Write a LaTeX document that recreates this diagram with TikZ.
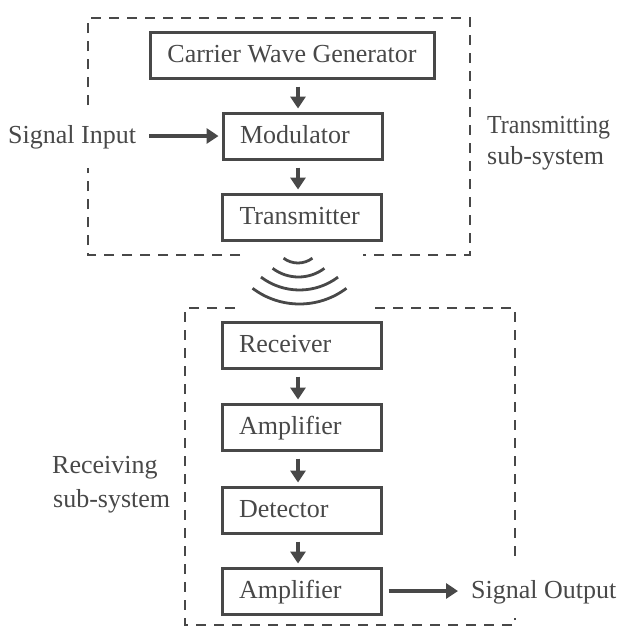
\documentclass[tikz,border=0pt]{standalone}
\usepackage{fontspec}
\setmainfont{Liberation Serif}
\usetikzlibrary{arrows.meta,calc}
\definecolor{ink}{RGB}{72,72,72}
\begin{document}
\begin{tikzpicture}[x=1pt,y=-1pt,
  every node/.style={text=ink,font=\fontsize{26}{31}\selectfont},
  blockbox/.style={draw=ink,line width=3pt,minimum height=46pt,text height=19pt,text depth=5pt,inner ysep=0pt},
  leftbox/.style={blockbox,inner xsep=17pt,text width=125pt,align=left},
  lab/.style={inner sep=0pt,anchor=base west},
  arr/.style={draw=ink,line width=3.2pt,-{Triangle[width=15pt,length=12pt]}},
  varr/.style={arr,shorten <=7pt,shorten >=3pt},
  dashbox/.style={draw=ink,line width=2.7pt,dash pattern=on 10pt off 8pt},
  wave/.style={draw=ink,line width=2.8pt}]
\useasboundingbox (0,0) rectangle (624,627);

% transmitting blocks
\node[blockbox,minimum width=284pt,inner xsep=0pt] (cwg) at (292,55) {Carrier Wave Generator};
\node[leftbox] (mod) at (302.5,136) {Modulator};
\node[leftbox] (tra) at (302,217) {Transmitter};

% receiving blocks
\node[leftbox] (rec) at (301.5,345) {Receiver};
\node[leftbox] (amp1) at (301.5,427) {Amplifier};
\node[leftbox] (det) at (301.5,510) {Detector};
\node[leftbox] (amp2) at (301.5,591) {Amplifier};

% labels
\node[lab] (sin) at (8,143) {Signal Input};
\node[lab] (sout) at (471,598) {Signal Output};
\node[lab] (tl1) at (487,133) {\scalebox{0.92}[1]{Transmitting}};
\node[lab] (tl2) at (487,164) {sub-system};
\node[lab] (rl1) at (52,473) {Receiving};
\node[lab] (rl2) at (53,507) {sub-system};

% vertical arrows
\coordinate (ax) at (298,0);
\draw[varr] (cwg.south -| ax) -- (mod.north -| ax);
\draw[varr] (mod.south -| ax) -- (tra.north -| ax);
\draw[varr] (rec.south -| ax) -- (amp1.north -| ax);
\draw[varr] (amp1.south -| ax) -- (det.north -| ax);
\draw[varr] (det.south -| ax) -- (amp2.north -| ax);

% horizontal arrows
\draw[arr,shorten >=3pt] ([xshift=13pt]mod.west -| sin.east) -- (mod.west);
\draw[arr] ([xshift=6pt]amp2.east) -- ([xshift=-13pt]amp2.east -| sout.west);

% dashed sub-system boxes
\draw[dashbox] (88,105) -- (88,18) -- (470,18) -- (470,255) -- (363,255);
\draw[dashbox] (240,255) -- (88,255) -- (88,168);
\draw[dashbox] (235,308) -- (185,308) -- (185,625) -- (515,625) -- (515,618);
\draw[dashbox] (375,308) -- (515,308) -- (515,556);

% radio waves
\draw[wave] (298,239) ++(127:24) arc[start angle=127,end angle=53,radius=24];
\draw[wave] (298.5,234) ++(127:43) arc[start angle=127,end angle=53,radius=43];
\draw[wave] (299.5,226) ++(127:64) arc[start angle=127,end angle=53,radius=64];
\draw[wave] (299.5,226) ++(127:78) arc[start angle=127,end angle=53,radius=78];
\end{tikzpicture}
\end{document}
